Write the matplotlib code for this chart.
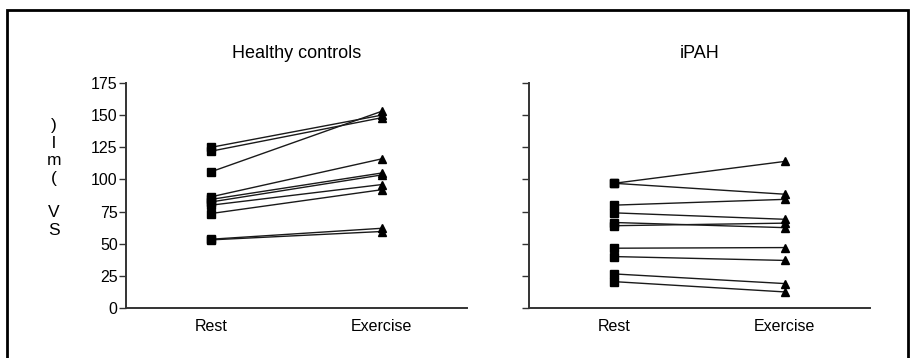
import matplotlib
matplotlib.use("Agg")
import matplotlib.pyplot as plt
from matplotlib.patches import Rectangle

plt.rcParams['font.family'] = ['Liberation Sans', 'DejaVu Sans']

conditions = ["Rest", "Exercise"]

# stroke volume (ml), one pair per subject
healthy_rest = [125, 122, 106, 86.5, 84.5, 82.5, 80, 73.5, 53.5, 53]
healthy_exercise = [150, 148, 153, 116, 105, 103.5, 96, 92, 62, 59.5]

ipah_rest = [97, 97, 80, 74, 66.5, 64, 46.5, 40, 26.5, 20.5]
ipah_exercise = [114, 88.5, 84.5, 69, 62.5, 66, 47, 37, 19, 12.5]

yticks = [0, 25, 50, 75, 100, 125, 150, 175]

fig = plt.figure(figsize=(9.14, 3.58), dpi=100)

# outer frame
fig.patches.append(Rectangle((7 / 914, -0.05), 901 / 914, 1.05 - 10 / 358,
                             transform=fig.transFigure, fill=False,
                             edgecolor='black', linewidth=2.0))

ax1 = fig.add_axes([126 / 914, 50 / 358, 341 / 914, 225 / 358])
ax2 = fig.add_axes([529 / 914, 50 / 358, 341 / 914, 225 / 358])

line_col = '#1a1a1a'
axis_col = '#333333'


def draw_panel(ax, rest, exercise, title, show_labels):
    for r, e in zip(rest, exercise):
        ax.plot([0, 1], [r, e], color=line_col, lw=1.0, zorder=2)
    ax.plot([0] * len(rest), rest, ls='none', marker='s', ms=6,
            color='black', zorder=3)
    ax.plot([1] * len(exercise), exercise, ls='none', marker='^', ms=6,
            color='black', zorder=3)
    ax.set_xlim(-0.5, 1.5)
    ax.set_ylim(0, 175)
    ax.set_yticks(yticks)
    ax.set_xticks([0, 1])
    ax.set_xticklabels(conditions, fontsize=11.5)
    ax.tick_params(axis='x', length=0, pad=8)
    ax.tick_params(axis='y', length=5, width=1.0, color=axis_col,
                   labelsize=11.5, pad=1, labelleft=show_labels)
    for s in ['top', 'right']:
        ax.spines[s].set_visible(False)
    for s in ['left', 'bottom']:
        ax.spines[s].set_linewidth(1.4)
        ax.spines[s].set_color(axis_col)
    ax.set_title(title, fontsize=13, pad=18)


draw_panel(ax1, healthy_rest, healthy_exercise, "Healthy controls", True)
draw_panel(ax2, ipah_rest, ipah_exercise, "iPAH", False)

# y label drawn as a stack of characters
fig.text(54 / 914, 1 - 178 / 358, ")\nl\nm\n(\n\nV\nS", ha='center', va='center',
         fontsize=12.5, linespacing=1.2)

fig.savefig("out.png", dpi=100)
